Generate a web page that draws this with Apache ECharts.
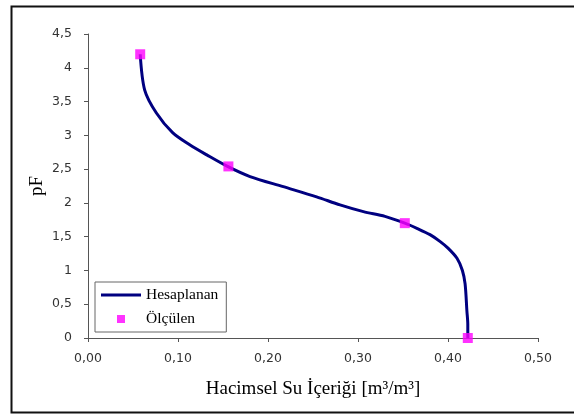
<!DOCTYPE html>
<html>
<head>
<meta charset="utf-8">
<script src="https://cdn.jsdelivr.net/npm/echarts@6/dist/echarts.min.js"></script>
<style>
  html, body { margin: 0; padding: 0; background: #fff; }
  #chart { width: 574px; height: 415px; }
</style>
</head>
<body>
<div id="chart"></div>
<script>
// hesaplanan egri (x: su icerigi, y: pF)
const calcX = [0.422, 0.422, 0.421, 0.419, 0.416, 0.410, 0.400, 0.391, 0.380, 0.366, 0.352, 0.330, 0.306, 0.280, 0.254, 0.217, 0.180, 0.155, 0.132, 0.113, 0.094, 0.076, 0.063, 0.058];
const calcY = [0.00, 0.20, 0.40, 0.80, 1.00, 1.18, 1.33, 1.43, 1.53, 1.62, 1.70, 1.80, 1.87, 1.97, 2.09, 2.24, 2.39, 2.54, 2.71, 2.86, 3.04, 3.33, 3.67, 4.20];
// olculen noktalar
const measX = [0.058, 0.156, 0.352, 0.422];
const measY = [4.20, 2.54, 1.70, 0.00];

const chart = echarts.init(document.getElementById("chart"));

const fmt = (v, d) => v.toFixed(d).replace(".", ",");

const option = {
  animation: false,
  backgroundColor: "#fff",
  grid: { left: 88, top: 34, right: 36, bottom: 77 },
  xAxis: {
    type: "value",
    min: 0,
    max: 0.5,
    interval: 0.1,
    name: "Hacimsel Su İçeriği [m³/m³]",
    nameLocation: "middle",
    nameGap: 42,
    nameMoveOverlap: false,
    nameTextStyle: { fontFamily: "Liberation Serif", fontSize: 19, color: "#000" },
    axisLine: { lineStyle: { color: "#555", width: 1 } },
    axisTick: { inside: false, length: 4, lineStyle: { color: "#555" } },
    axisLabel: {
      fontFamily: "DejaVu Sans",
      fontSize: 12.5,
      color: "#333",
      margin: 14,
      formatter: (v) => fmt(v, 2)
    },
    splitLine: { show: false }
  },
  yAxis: {
    type: "value",
    min: 0,
    max: 4.5,
    interval: 0.5,
    name: "pF",
    nameLocation: "middle",
    nameGap: 41,
    nameMoveOverlap: false,
    nameRotate: 90,
    nameTextStyle: { fontFamily: "Liberation Serif", fontSize: 19, color: "#000" },
    axisLine: { show: true, lineStyle: { color: "#555", width: 1 } },
    axisTick: { show: true, inside: false, length: 4, lineStyle: { color: "#555" } },
    axisLabel: {
      fontFamily: "DejaVu Sans",
      fontSize: 12.5,
      color: "#333",
      margin: 16,
      formatter: (v) => (Number.isInteger(v) ? String(v) : fmt(v, 1))
    },
    splitLine: { show: false }
  },
  legend: {
    orient: "vertical",
    left: 95,
    top: 282,
    padding: [5, 8, 5, 6],
    backgroundColor: "#fff",
    borderColor: "#666",
    borderWidth: 1,
    itemWidth: 40,
    itemHeight: 8,
    itemGap: 8,
    textStyle: { fontFamily: "Liberation Serif", fontSize: 15.5, color: "#000" },
    data: [
      { name: "Hesaplanan", icon: "path://M0,0L40,0L40,3L0,3Z" },
      { name: "Ölçülen", icon: "path://M0,0L10,0L10,10L0,10Z" }
    ]
  },
  graphic: [
    {
      type: "rect",
      shape: { x: 11.5, y: 6.5, width: 600, height: 406 },
      style: { fill: "none", stroke: "#111", lineWidth: 2 },
      silent: true
    }
  ],
  series: [
    {
      name: "Hesaplanan",
      type: "line",
      data: calcX.map((x, i) => [x, calcY[i]]),
      smooth: 0.3,
      symbol: "none",
      lineStyle: { color: "#000080", width: 3 },
      itemStyle: { color: "#000080" },
      z: 2
    },
    {
      name: "Ölçülen",
      type: "scatter",
      data: measX.map((x, i) => [x, measY[i]]),
      symbol: "rect",
      symbolSize: 10,
      itemStyle: { color: "#ff00ff" },
      z: 3
    }
  ]
};

chart.setOption(option);
</script>
</body>
</html>
